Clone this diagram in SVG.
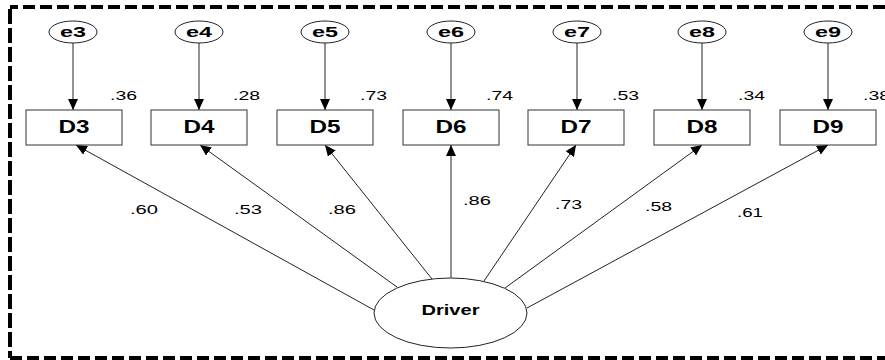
<svg xmlns="http://www.w3.org/2000/svg" width="885" height="360" viewBox="0 0 885 360">
<style>
.box{fill:#fff;stroke:#333;stroke-width:1}
.err{fill:#fff;stroke:#222;stroke-width:1}
.ln{stroke:#222;stroke-width:1;fill:none}
.lb{font-family:"Liberation Sans",Arial,sans-serif;font-weight:bold;fill:#000}
.num{font-family:"Liberation Sans",Arial,sans-serif;font-size:13.5px;fill:#000}
.border{fill:none;stroke:#000;stroke-width:4;stroke-dasharray:12 5}
.borderv{fill:none;stroke:#000;stroke-width:4;stroke-dasharray:15 4}
</style>
<defs>
<marker id="ah" markerWidth="11" markerHeight="10" refX="11" refY="5" orient="auto" markerUnits="userSpaceOnUse">
<path d="M0,0 L11,5 L0,10 z" fill="#000"/>
</marker>
</defs>
<rect x="0" y="0" width="885" height="360" fill="#fff"/>
<path class="border" d="M885,7 H10"/>
<path class="borderv" d="M10,9 V358"/>
<path class="border" d="M10,358 H885"/>
<g id="connectors">
<line class="ln" x1="73" y1="43" x2="73" y2="110" marker-end="url(#ah)"/>
<line class="ln" x1="199" y1="43" x2="199" y2="110" marker-end="url(#ah)"/>
<line class="ln" x1="325" y1="43" x2="325" y2="110" marker-end="url(#ah)"/>
<line class="ln" x1="451" y1="43" x2="451" y2="110" marker-end="url(#ah)"/>
<line class="ln" x1="577" y1="43" x2="577" y2="110" marker-end="url(#ah)"/>
<line class="ln" x1="702" y1="43" x2="702" y2="110" marker-end="url(#ah)"/>
<line class="ln" x1="828" y1="43" x2="828" y2="110" marker-end="url(#ah)"/>
<line class="ln" x1="374" y1="310" x2="76" y2="145" marker-end="url(#ah)"/>
<line class="ln" x1="397" y1="287" x2="200" y2="145" marker-end="url(#ah)"/>
<line class="ln" x1="432" y1="279" x2="325" y2="145" marker-end="url(#ah)"/>
<line class="ln" x1="451" y1="278" x2="451" y2="145" marker-end="url(#ah)"/>
<line class="ln" x1="484" y1="281" x2="576" y2="145" marker-end="url(#ah)"/>
<line class="ln" x1="505" y1="288" x2="702" y2="145" marker-end="url(#ah)"/>
<line class="ln" x1="527" y1="308" x2="828" y2="145" marker-end="url(#ah)"/>
</g>
<g id="coefs">
<text class="num" x="130" y="214" textLength="28" lengthAdjust="spacingAndGlyphs">.60</text>
<text class="num" x="234" y="214" textLength="28" lengthAdjust="spacingAndGlyphs">.53</text>
<text class="num" x="328" y="214" textLength="28" lengthAdjust="spacingAndGlyphs">.86</text>
<text class="num" x="463" y="205" textLength="28" lengthAdjust="spacingAndGlyphs">.86</text>
<text class="num" x="555" y="209" textLength="27" lengthAdjust="spacingAndGlyphs">.73</text>
<text class="num" x="645" y="211" textLength="27" lengthAdjust="spacingAndGlyphs">.58</text>
<text class="num" x="737" y="217" textLength="26" lengthAdjust="spacingAndGlyphs">.61</text>
</g>
<g id="e3"><ellipse class="err" cx="73" cy="32" rx="24" ry="11"/><text class="lb" x="73" y="37" font-size="15.5" text-anchor="middle" textLength="26" lengthAdjust="spacingAndGlyphs">e3</text></g>
<g id="e4"><ellipse class="err" cx="199" cy="32" rx="24" ry="11"/><text class="lb" x="199" y="37" font-size="15.5" text-anchor="middle" textLength="26" lengthAdjust="spacingAndGlyphs">e4</text></g>
<g id="e5"><ellipse class="err" cx="325" cy="32" rx="24" ry="11"/><text class="lb" x="325" y="37" font-size="15.5" text-anchor="middle" textLength="26" lengthAdjust="spacingAndGlyphs">e5</text></g>
<g id="e6"><ellipse class="err" cx="451" cy="32" rx="24" ry="11"/><text class="lb" x="451" y="37" font-size="15.5" text-anchor="middle" textLength="26" lengthAdjust="spacingAndGlyphs">e6</text></g>
<g id="e7"><ellipse class="err" cx="577" cy="32" rx="24" ry="11"/><text class="lb" x="577" y="37" font-size="15.5" text-anchor="middle" textLength="26" lengthAdjust="spacingAndGlyphs">e7</text></g>
<g id="e8"><ellipse class="err" cx="702" cy="32" rx="24" ry="11"/><text class="lb" x="702" y="37" font-size="15.5" text-anchor="middle" textLength="26" lengthAdjust="spacingAndGlyphs">e8</text></g>
<g id="e9"><ellipse class="err" cx="828" cy="32" rx="24" ry="11"/><text class="lb" x="828" y="37" font-size="15.5" text-anchor="middle" textLength="26" lengthAdjust="spacingAndGlyphs">e9</text></g>
<g id="D3"><rect class="box" x="26" y="110" width="96" height="35"/><text class="lb" x="74" y="133" font-size="17.5" text-anchor="middle" textLength="31" lengthAdjust="spacingAndGlyphs">D3</text><text class="num" x="110" y="100" textLength="27" lengthAdjust="spacingAndGlyphs">.36</text></g>
<g id="D4"><rect class="box" x="151" y="110" width="96" height="35"/><text class="lb" x="199" y="133" font-size="17.5" text-anchor="middle" textLength="31" lengthAdjust="spacingAndGlyphs">D4</text><text class="num" x="233" y="100" textLength="27" lengthAdjust="spacingAndGlyphs">.28</text></g>
<g id="D5"><rect class="box" x="277" y="110" width="96" height="35"/><text class="lb" x="325" y="133" font-size="17.5" text-anchor="middle" textLength="31" lengthAdjust="spacingAndGlyphs">D5</text><text class="num" x="360" y="100" textLength="27" lengthAdjust="spacingAndGlyphs">.73</text></g>
<g id="D6"><rect class="box" x="403" y="110" width="96" height="35"/><text class="lb" x="451" y="133" font-size="17.5" text-anchor="middle" textLength="31" lengthAdjust="spacingAndGlyphs">D6</text><text class="num" x="486" y="100" textLength="27" lengthAdjust="spacingAndGlyphs">.74</text></g>
<g id="D7"><rect class="box" x="528" y="110" width="96" height="35"/><text class="lb" x="576" y="133" font-size="17.5" text-anchor="middle" textLength="31" lengthAdjust="spacingAndGlyphs">D7</text><text class="num" x="612" y="100" textLength="27" lengthAdjust="spacingAndGlyphs">.53</text></g>
<g id="D8"><rect class="box" x="654" y="110" width="96" height="35"/><text class="lb" x="702" y="133" font-size="17.5" text-anchor="middle" textLength="31" lengthAdjust="spacingAndGlyphs">D8</text><text class="num" x="738" y="100" textLength="27" lengthAdjust="spacingAndGlyphs">.34</text></g>
<g id="D9"><rect class="box" x="780" y="110" width="96" height="35"/><text class="lb" x="828" y="133" font-size="17.5" text-anchor="middle" textLength="31" lengthAdjust="spacingAndGlyphs">D9</text><text class="num" x="863" y="100" textLength="27" lengthAdjust="spacingAndGlyphs">.38</text></g>
<g id="Driver"><ellipse class="err" cx="450.5" cy="313" rx="76.5" ry="35"/><text class="lb" x="450.5" y="315" font-size="15" text-anchor="middle" textLength="58" lengthAdjust="spacingAndGlyphs">Driver</text></g>
</svg>
